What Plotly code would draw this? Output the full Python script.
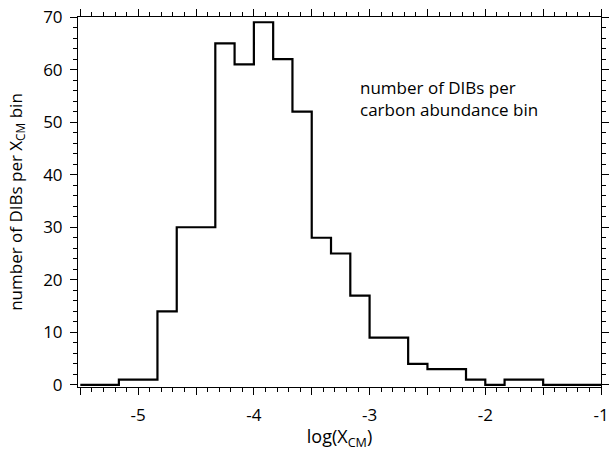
import plotly.graph_objects as go

# Histogram data: counts per carbon abundance bin
bin_start = -5.5
bin_width = 1.0 / 6.0
counts = [0, 0, 1, 1, 14, 30, 30, 65, 61, 69, 62, 52, 28, 25, 17, 9, 9, 4, 3, 3, 1, 0, 1, 1, 0, 0, 0]

x_major = [-5.5, -5.0, -4.5, -4.0, -3.5, -3.0, -2.5, -2.0, -1.5, -1.0]
x_labels = ["", "-5", "", "-4", "", "-3", "", "-2", "", "-1"]
y_major = [0, 10, 20, 30, 40, 50, 60, 70]

edges = [bin_start + i * bin_width for i in range(len(counts) + 1)]
ys = counts + [counts[-1]]

FONT = "Open Sans, Liberation Sans, Arial, sans-serif"
XR = [-5.52, -1.0]
YR = [-0.4, 70]

fig = go.Figure()
fig.add_trace(go.Scatter(
    x=edges, y=ys, mode="lines", line=dict(shape="hv", color="black", width=2.2),
    showlegend=False, hoverinfo="skip"))
# invisible twin trace so the mirrored (top/right) axes are drawn
fig.add_trace(go.Scatter(
    x=edges, y=ys, mode="lines", line=dict(color="rgba(0,0,0,0)", width=0),
    xaxis="x2", yaxis="y2", showlegend=False, hoverinfo="skip"))

fig.update_layout(
    width=609, height=451,
    margin=dict(l=78, r=8, t=17, b=64),
    paper_bgcolor="white", plot_bgcolor="white",
    font=dict(family=FONT, size=17, color="black"),
    annotations=[
        dict(x=-3.10, y=54.45, xref="x", yref="y", xanchor="left", yanchor="middle",
             text="number of DIBs per<br>carbon abundance bin", showarrow=False, align="left",
             font=dict(family=FONT, size=17, color="black")),
    ],
)

common_x = dict(
    range=XR, tickmode="array", tickvals=x_major,
    ticks="outside", ticklen=7, tickwidth=1, tickcolor="black",
    showline=True, linecolor="black", linewidth=1,
    showgrid=False, zeroline=False, automargin=False,
    minor=dict(dtick=0.1, tick0=-5.5, ticks="outside", ticklen=4, tickcolor="black", showgrid=False),
)
common_y = dict(
    range=YR, tickmode="array", tickvals=y_major,
    ticks="outside", ticklen=7, tickwidth=1, tickcolor="black",
    showline=True, linecolor="black", linewidth=1,
    showgrid=False, zeroline=False, automargin=False,
    minor=dict(dtick=2, tick0=0, ticks="outside", ticklen=4, tickcolor="black", showgrid=False),
)

fig.update_layout(
    xaxis=dict(**common_x, ticktext=x_labels, ticklabelstandoff=6,
               tickfont=dict(family=FONT, size=17),
               title=dict(text="log(X<sub>CM</sub>)", font=dict(family=FONT, size=18), standoff=7)),
    yaxis=dict(**common_y, ticklabelstandoff=4, tickfont=dict(family=FONT, size=17),
               title=dict(text="number of DIBs per X<sub>CM</sub> bin", font=dict(family=FONT, size=17), standoff=16)),
    xaxis2=dict(**common_x, overlaying="x", side="top", showticklabels=False),
    yaxis2=dict(**common_y, overlaying="y", side="right", showticklabels=False),
)

fig.write_html("out.html", config={"displayModeBar": False},
               post_script="document.body.style.margin='0';document.body.style.padding='0';")
